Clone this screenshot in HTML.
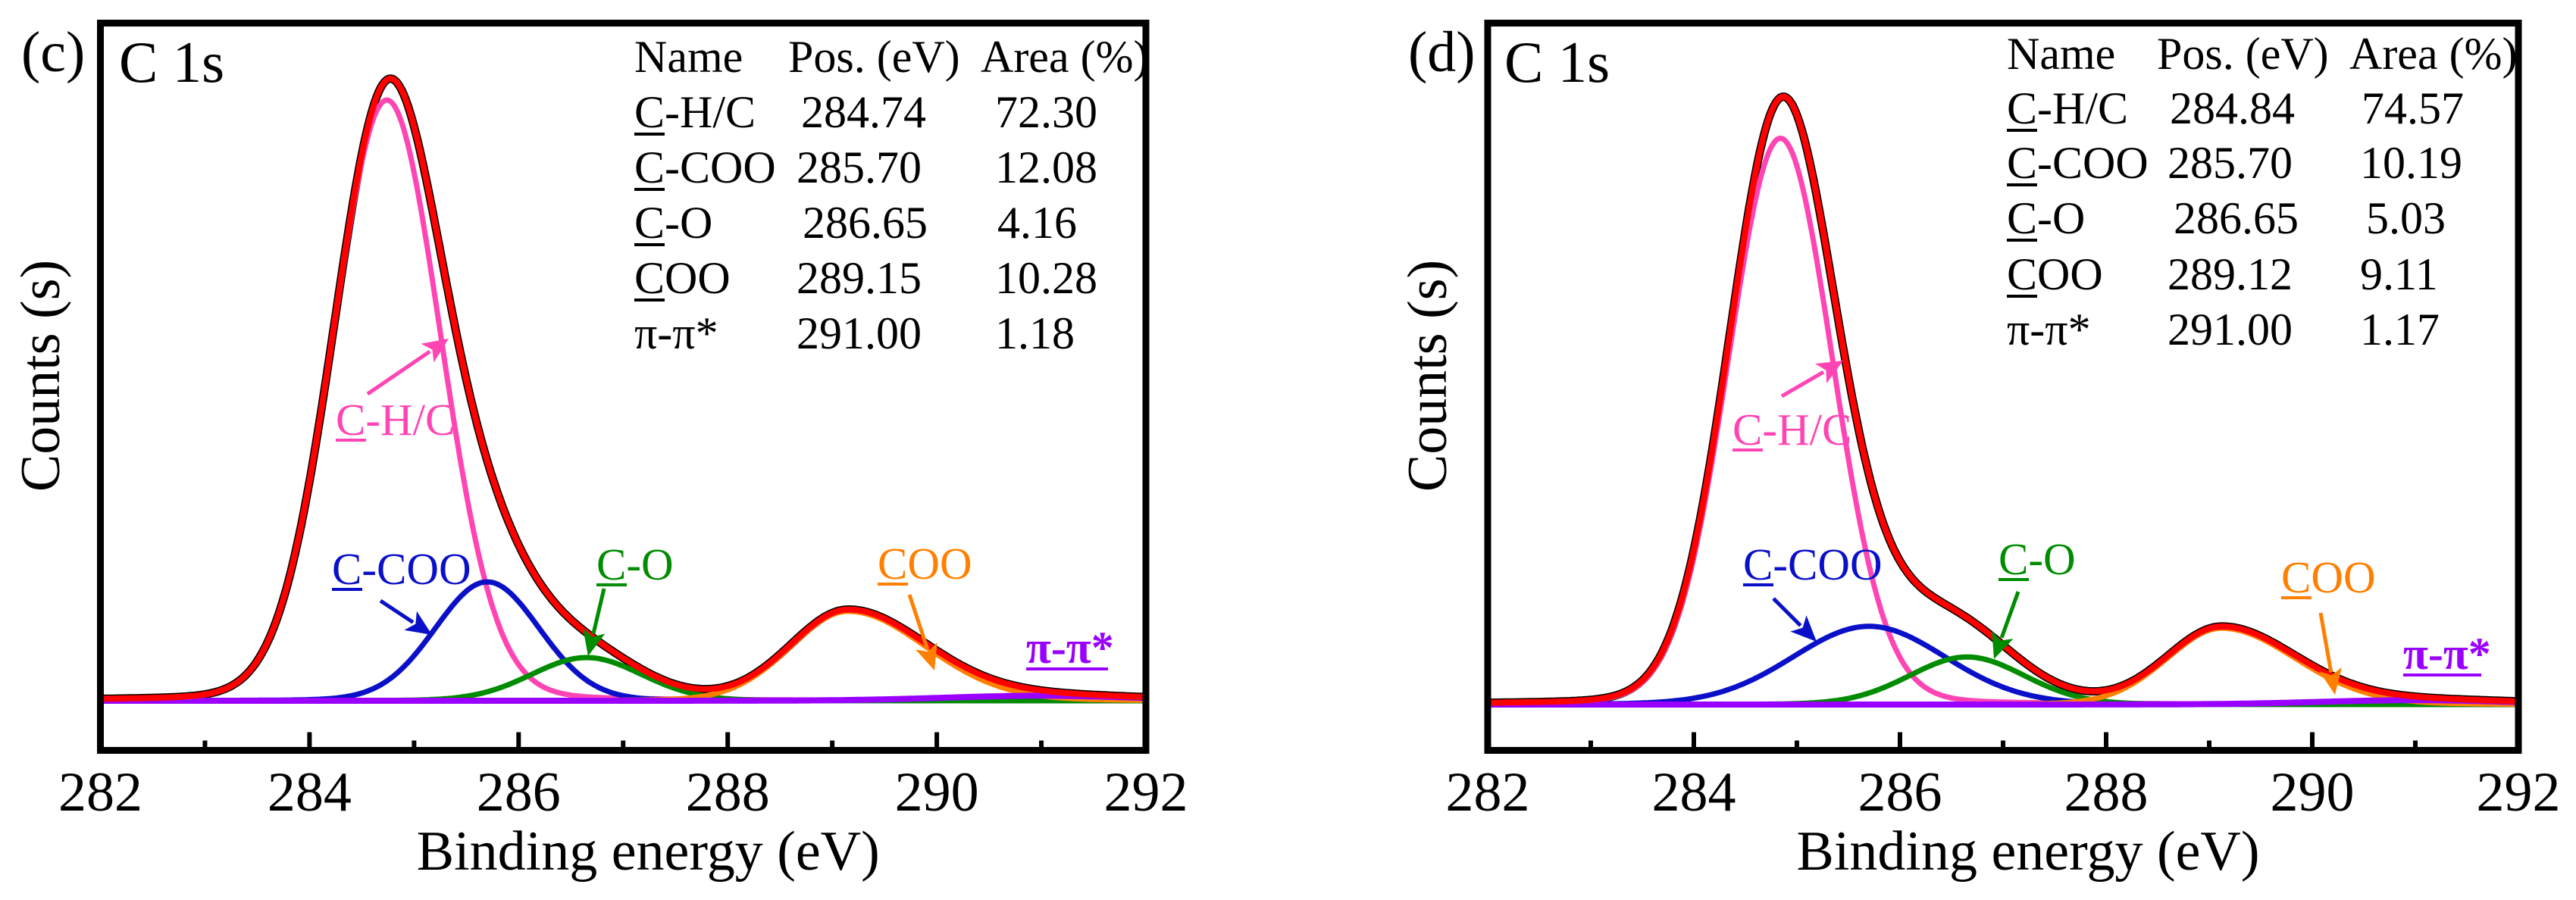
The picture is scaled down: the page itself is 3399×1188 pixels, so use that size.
<!DOCTYPE html>
<html><head><meta charset="utf-8"><style>
html,body{margin:0;padding:0;background:#fff;}
svg, svg text{font-family:"Liberation Serif","Times New Roman","DejaVu Serif",serif;}
</style></head><body>
<svg id="chart" width="3399" height="1183" viewBox="0 0 3399 1183" xmlns="http://www.w3.org/2000/svg" font-family="Liberation Serif, Times New Roman, serif"></svg>
<script>
// ---- data ----
const xTicks = [282, 284, 286, 288, 290, 292];
const xMinorTicks = [283, 285, 287, 289, 291];
const compNames = ['C-H/C', 'C-COO', 'C-O', 'COO', 'π-π*'];
const compColors = ['#ff44b4', '#0a10c8', '#008c00', '#ff8000', '#9900ff'];
// panel (c)
const posC = [284.74, 285.70, 286.65, 289.15, 291.00];
const heightC = [96, 19, 6.9, 14.3, 0.8];
const fwhmC = [1.22, 1.18, 1.25, 1.3, 2.2];
const areaC = ['72.30', '12.08', '4.16', '10.28', '1.18'];
const posLabelC = ['284.74', '285.70', '286.65', '289.15', '291.00'];
// panel (d)
const posD = [284.84, 285.70, 286.65, 289.12, 291.00];
const heightD = [90.5, 12.5, 7.6, 12.2, 0.7];
const fwhmD = [1.2, 1.75, 1.32, 1.25, 2.2];
const areaD = ['74.57', '10.19', '5.03', '9.11', '1.17'];
const posLabelD = ['284.84', '285.70', '286.65', '289.12', '291.00'];

const NS = 'http://www.w3.org/2000/svg';
const FONT = '"Liberation Serif", "Times New Roman", serif';
const svg = document.getElementById('chart');
function mk(tag, attrs, parent) {
  const e = document.createElementNS(NS, tag);
  for (const k in attrs) e.setAttribute(k, attrs[k]);
  if (tag === 'text') e.style.fontFamily = FONT;
  (parent || svg).appendChild(e);
  return e;
}
const ETA = 0.06;
function gauss(x, p, h, f) {
  const s = f / 2.3548, hw = f / 2, d = x - p;
  const G = Math.exp(-d * d / (2 * s * s));
  const L = 1 / (1 + (d / hw) * (d / hw));
  return h * ((1 - ETA) * G + ETA * L);
}

const panels = [
  { tag: '(c)', x0: 132.5, x1: 1512, y0: 30.5, y1: 990.5, base: 925, pos: posC, h: heightC, f: fwhmC, area: areaC, posLbl: posLabelC,
    tagX: 28, c1sX: 157, nameX: 837, posHX: 1040, areaHX: 1294,
    posVX: [1057, 1051, 1059, 1051, 1051], areaVX: [1313, 1313, 1316, 1313, 1313], rowY: [95, 168, 241, 314, 387, 460], ylabX: 52,
    labels: [
      { t: 'C-H/C', x: 443, y: 574, ax: [485, 520], tip: [592, 447] },
      { t: 'C-COO', x: 438, y: 771, ax: [502, 793], tip: [570, 838] },
      { t: 'C-O', x: 787, y: 765, ax: [797, 777], tip: [776, 866] },
      { t: 'COO', x: 1158, y: 764, ax: [1200, 785], tip: [1233, 885] },
      { t: 'π-π*', x: 1354, y: 875, ul: [1354, 1462, 883] }] },
  { tag: '(d)', x0: 1963, x1: 3323, y0: 30.5, y1: 990.5, base: 930, pos: posD, h: heightD, f: fwhmD, area: areaD, posLbl: posLabelD,
    tagX: 1858, c1sX: 1985, nameX: 2648, posHX: 2846, areaHX: 3100,
    posVX: [2863, 2860, 2868, 2860, 2860], areaVX: [3116, 3114, 3122, 3114, 3114], rowY: [91, 163, 235, 308, 382, 455], ylabX: 1882,
    labels: [
      { t: 'C-H/C', x: 2286, y: 587, ax: [2351, 523], tip: [2432, 476] },
      { t: 'C-COO', x: 2300, y: 765, ax: [2340, 790], tip: [2397, 847] },
      { t: 'C-O', x: 2637, y: 758, ax: [2663, 781], tip: [2631, 870] },
      { t: 'COO', x: 3010, y: 782, ax: [3062, 809], tip: [3081, 917] },
      { t: 'π-π*', x: 3171, y: 883, ul: [3171, 3274, 891] }] }
];

const YS = 8.26;
panels.forEach((P, pi) => {
  const g = mk('g', {});
  
  
  const xs = v => P.x0 + (v - 282) / 10 * (P.x1 - P.x0);
  const ys = v => P.base - v * YS;
  const cid = 'clip' + pi;
  const cp = mk('clipPath', { id: cid }, g);
  mk('rect', { x: P.x0 + 4.5, y: P.y0 + 4.5, width: P.x1 - P.x0 - 9, height: P.y1 - P.y0 - 9 }, cp);
  const plot = mk('g', { 'clip-path': 'url(#' + cid + ')' }, g);
  
  

  const xsArr = [];
  for (let e = 281.9; e <= 292.1; e += 0.02) xsArr.push(e);
  function comp(i, e) {
    if (i === 3 && e > P.pos[3]) return gauss(e, P.pos[3], P.h[3], P.f[3] * 1.35);
    return gauss(e, P.pos[i], P.h[i], P.f[i]);
  }
  function sum(e) { let s = 0; for (let i = 0; i < 5; i++) s += comp(i, e); return s; }
  function pathOf(fn) { return xsArr.map((e, k) => (k ? 'L' : 'M') + xs(e).toFixed(1) + ',' + ys(fn(e)).toFixed(1)).join(''); }

  const raw = mk('path', { d: pathOf(sum), fill: 'none', stroke: '#000', 'stroke-width': 11, 'stroke-linejoin': 'round' }, plot);
  
  
  [0, 1, 2, 3].forEach(i => {
    const p = mk('path', { d: pathOf(e => comp(i, e)), fill: 'none', stroke: compColors[i], 'stroke-width': 7, 'stroke-linejoin': 'round' }, plot);
    
    
  });
  const pp = mk('path', { d: pathOf(e => comp(4, e)), fill: 'none', stroke: compColors[4], 'stroke-width': 8 }, plot);
  
  
  const env = mk('path', { d: pathOf(sum), fill: 'none', stroke: '#ff0000', 'stroke-width': 8, 'stroke-linejoin': 'round' }, plot);
  
  

  const fr = mk('rect', { x: P.x0, y: P.y0, width: P.x1 - P.x0, height: P.y1 - P.y0, fill: 'none', stroke: '#000', 'stroke-width': 9 }, g);
  
  
  xTicks.forEach(v => {
    const t = mk('line', { x1: xs(v), x2: xs(v), y1: P.y1 - 4, y2: P.y1 - 24, stroke: '#000', 'stroke-width': 6 }, g);
    
    
    const tl = mk('text', { x: xs(v), y: 1070, 'font-size': 74, 'text-anchor': 'middle' }, g);
    tl.textContent = v;
    
    
  });
  xMinorTicks.forEach(v => {
    const t = mk('line', { x1: xs(v), x2: xs(v), y1: P.y1 - 4, y2: P.y1 - 13, stroke: '#000', 'stroke-width': 6 }, g);
    
    
  });
  const xt = mk('text', { x: (P.x0 + P.x1) / 2 + 33, y: 1148, 'font-size': 74, 'text-anchor': 'middle' }, g);
  xt.textContent = 'Binding energy (eV)';
  
  
  const yt = mk('text', { x: 0, y: 0, 'font-size': 74, 'text-anchor': 'middle', transform: 'translate(' + (P.ylabX + 26) + ',496) rotate(-90)' }, g);
  yt.textContent = 'Counts (s)';
  
  

  const tg = mk('text', { x: P.tagX, y: 94, 'font-size': 76 }, g);
  tg.textContent = P.tag;
  
  
  const c1 = mk('text', { x: P.c1sX, y: 108, 'font-size': 77 }, g);
  c1.textContent = 'C 1s';
  
  

  const tb = mk('g', { 'font-size': 60 }, g);
  
  
  [['Name', P.nameX], ['Pos. (eV)', P.posHX], ['Area (%)', P.areaHX]].forEach(([s, x]) => {
    const t = mk('text', { x: x, y: P.rowY[0], 'font-size': 60 }, tb);
    t.textContent = s;
    
    
  });
  for (let i = 0; i < 5; i++) {
    const y = P.rowY[i + 1];
    const n = mk('text', { x: P.nameX, y: y, 'font-size': 60 }, tb);
    n.textContent = compNames[i];
    
    
    if (i < 4) mk('line', { x1: P.nameX, x2: P.nameX + 40, y1: y + 9, y2: y + 9, stroke: '#000', 'stroke-width': 4 }, tb);
    const pv = mk('text', { x: P.posVX[i], y: y, 'font-size': 60 }, tb);
    pv.textContent = P.posLbl[i];
    
    
    const av = mk('text', { x: P.areaVX[i], y: y, 'font-size': 60 }, tb);
    av.textContent = P.area[i];
    
    
  }

  P.labels.forEach((L, i) => {
    const col = compColors[i];
    const a = mk('g', { fill: col }, g);
    
    
    const t = mk('text', { x: L.x, y: L.y, 'font-size': i === 4 ? 60 : 59, 'font-weight': i === 4 ? 'bold' : 'normal', fill: col }, a);
    t.textContent = compNames[i];
    if (L.ul) {
      mk('line', { x1: L.ul[0], x2: L.ul[1], y1: L.ul[2], y2: L.ul[2], stroke: col, 'stroke-width': 4 }, a);
    } else {
      mk('line', { x1: L.x, x2: L.x + 40, y1: L.y + 7, y2: L.y + 7, stroke: col, 'stroke-width': 4 }, a);
      const [x1, y1] = L.ax, [x2, y2] = L.tip;
      const dx = x2 - x1, dy = y2 - y1, len = Math.hypot(dx, dy), ux = dx / len, uy = dy / len;
      const hl = 34, hw = 15;
      const bx = x2 - ux * hl, by = y2 - uy * hl;
      mk('line', { x1: x1, y1: y1, x2: bx + ux * 4, y2: by + uy * 4, stroke: col, 'stroke-width': 5 }, a);
      mk('polygon', { points: [x2, y2, bx - uy * hw, by + ux * hw, bx + ux * 8, by + uy * 8, bx + uy * hw, by - ux * hw].join(' ') }, a);
    }
  });
});
</script>
</body></html>
